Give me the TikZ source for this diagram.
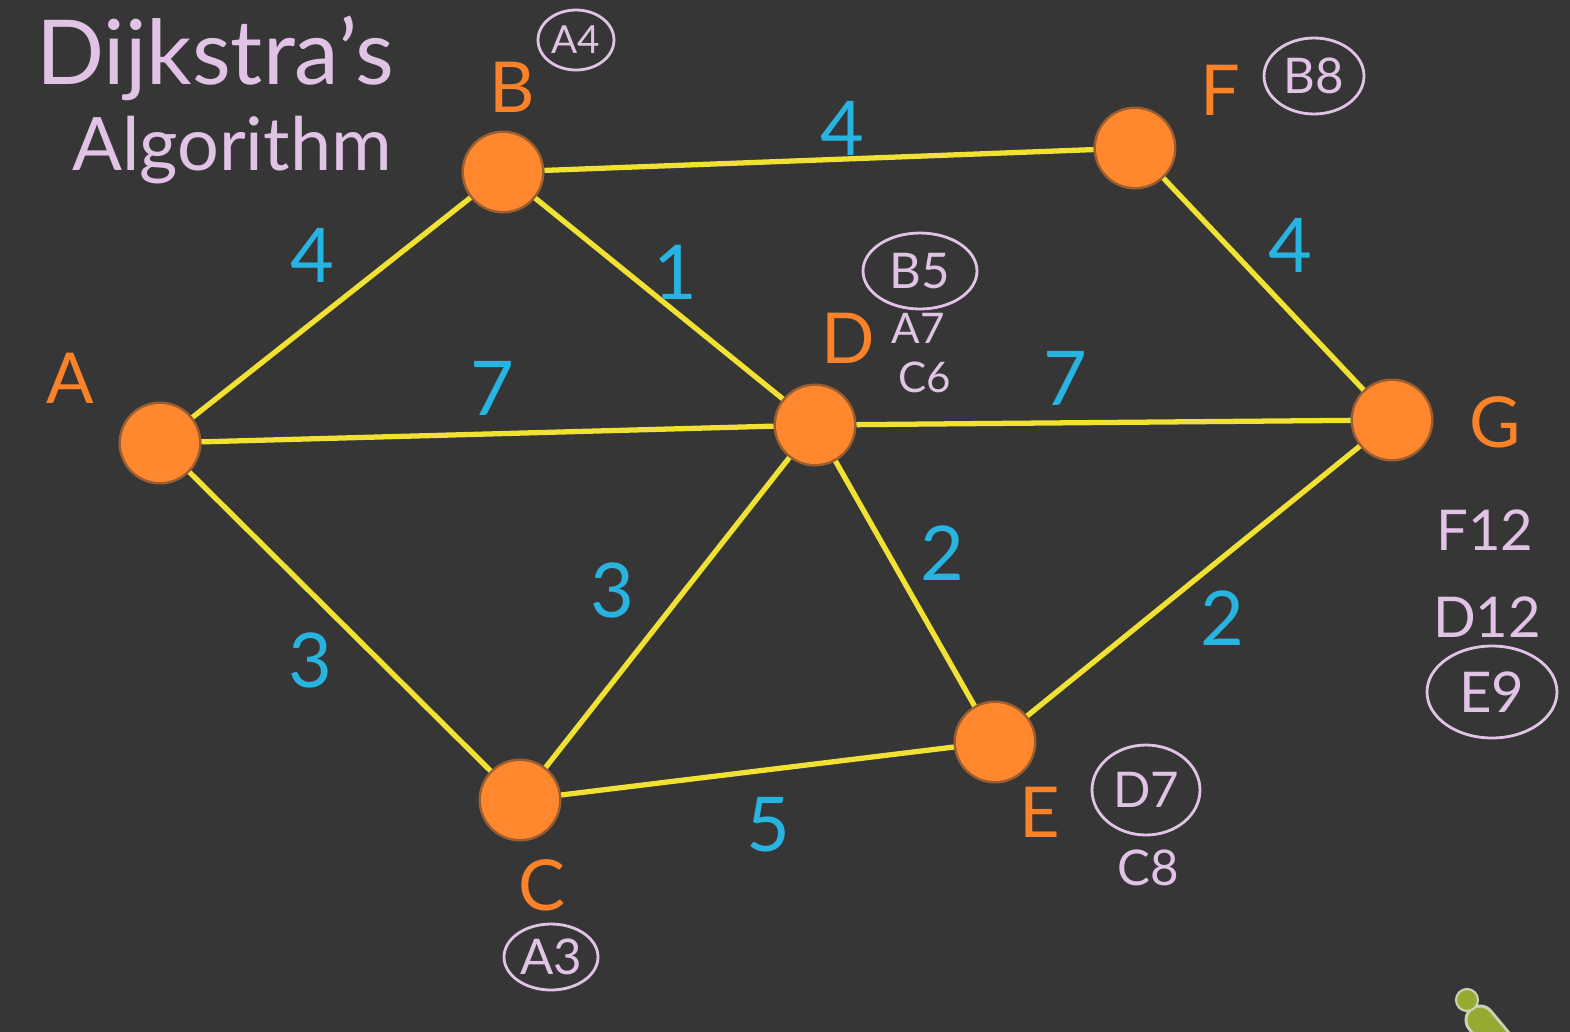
\documentclass[tikz,border=0pt]{standalone}
\usepackage{fontspec}
\setmainfont{Lato}
\usetikzlibrary{shapes.geometric}
\definecolor{board}{RGB}{54,54,54}
\definecolor{nodeor}{RGB}{255,135,45}
\definecolor{lor}{RGB}{250,130,40}
\definecolor{edgey}{RGB}{240,225,50}
\definecolor{wcyan}{RGB}{40,180,225}
\definecolor{notep}{RGB}{225,195,230}
\definecolor{ptrgreen}{RGB}{150,170,50}
\definecolor{ptredge}{RGB}{200,210,180}
\begin{document}
\begin{tikzpicture}[x=0.02cm,y=-0.02cm,
  vertex/.style={circle, minimum size=1.56cm, inner sep=0pt, fill=nodeor, draw=nodeor, draw opacity=0.5, line width=0.1cm},
  edge/.style={draw=edgey, line width=3pt},
  wt/.style={text=wcyan, inner sep=0pt, font=\fontsize{43}{43}\selectfont},
  lbl/.style={text=lor, inner sep=0pt, font=\fontsize{40}{40}\selectfont},
  note/.style={text=notep, inner sep=0pt, font=\fontsize{28}{28}\selectfont},
  circ/.style={note, ellipse, draw=notep, line width=1.6pt}
]
\fill[board] (0,0) rectangle (1570,1032);
\useasboundingbox (0,0) rectangle (1570,1032);
\clip (0,0) rectangle (1570,1032);

% title
\node[note, font=\fontsize{51}{51}\selectfont] (t1) at (215,58) {Dijkstra's};
\node[note, font=\fontsize{42}{42}\selectfont] (t2) at (232,150) {Algorithm};

% vertices
\node[vertex] (A) at (160,443) {};
\node[vertex] (B) at (503,172) {};
\node[vertex] (F) at (1135,148) {};
\node[vertex] (D) at (815,425) {};
\node[vertex] (G) at (1392,420) {};
\node[vertex] (C) at (520,800) {};
\node[vertex] (E) at (995,742) {};

% edges
\draw[edge] (A) -- (B);
\draw[edge] (A) -- (D);
\draw[edge] (A) -- (C);
\draw[edge] (B) -- (F);
\draw[edge] (B) -- (D);
\draw[edge] (D) -- (G);
\draw[edge] (F) -- (G);
\draw[edge] (C) -- (D);
\draw[edge] (D) -- (E);
\draw[edge] (C) -- (E);
\draw[edge] (E) -- (G);

% weights
\node[wt] (wAB) at (312,255) {4};
\node[wt] (wAD) at (492,388) {7};
\node[wt] (wAC) at (310,660) {3};
\node[wt] (wBF) at (842,128) {4};
\node[wt] (wBD) at (675,272) {1};
\node[wt] (wDG) at (1065,378) {7};
\node[wt] (wFG) at (1290,245) {4};
\node[wt] (wCD) at (612,590) {3};
\node[wt] (wDE) at (942,553) {2};
\node[wt] (wEG) at (1222,618) {2};
\node[wt] (wCE) at (768,825) {5};

% vertex labels
\node[lbl] (lA) at (70,378) {A};
\node[lbl] (lB) at (512,87) {B};
\node[lbl] (lF) at (1220,90) {F};
\node[lbl] (lD) at (848,338) {D};
\node[lbl] (lG) at (1495,422) {G};
\node[lbl] (lC) at (542,885) {C};
\node[lbl] (lE) at (1040,812) {E};

% notes
\node[circ, minimum width=1.52cm, minimum height=1.2cm, font=\fontsize{22}{22}\selectfont] (nA4) at (576,40) {A4};
\node[circ, minimum width=2.0cm, minimum height=1.52cm] (nB8) at (1314,76) {B8};
\node[circ, minimum width=2.28cm, minimum height=1.52cm] (nB5) at (920,271) {B5};
\node[note, font=\fontsize{24}{24}\selectfont] (nA7) at (918,328) {A7};
\node[note, font=\fontsize{24}{24}\selectfont] (nC6) at (925,377) {C6};
\node[circ, minimum width=2.16cm, minimum height=1.8cm] (nD7) at (1146,790) {D7};
\node[note] (nC8) at (1148,868) {C8};
\node[circ, minimum width=1.88cm, minimum height=1.32cm] (nA3) at (551,957) {A3};
\node[note, font=\fontsize{32}{32}\selectfont] (nF12) at (1485,530) {F12};
\node[note, font=\fontsize{32}{32}\selectfont] (nD12) at (1487,617) {D12};
\node[circ, minimum width=2.6cm, minimum height=1.84cm, font=\fontsize{32}{32}\selectfont] (nE9) at (1492,692) {E9};

% pointer
\draw[ptredge, line width=0.62cm, line cap=round] (1480,1020) -- (1505,1050);
\draw[ptrgreen, line width=0.5cm, line cap=round] (1480,1020) -- (1505,1050);
\filldraw[fill=ptrgreen, draw=ptredge, line width=1.2pt] (1467,1000) circle (0.22cm);
\end{tikzpicture}
\end{document}
